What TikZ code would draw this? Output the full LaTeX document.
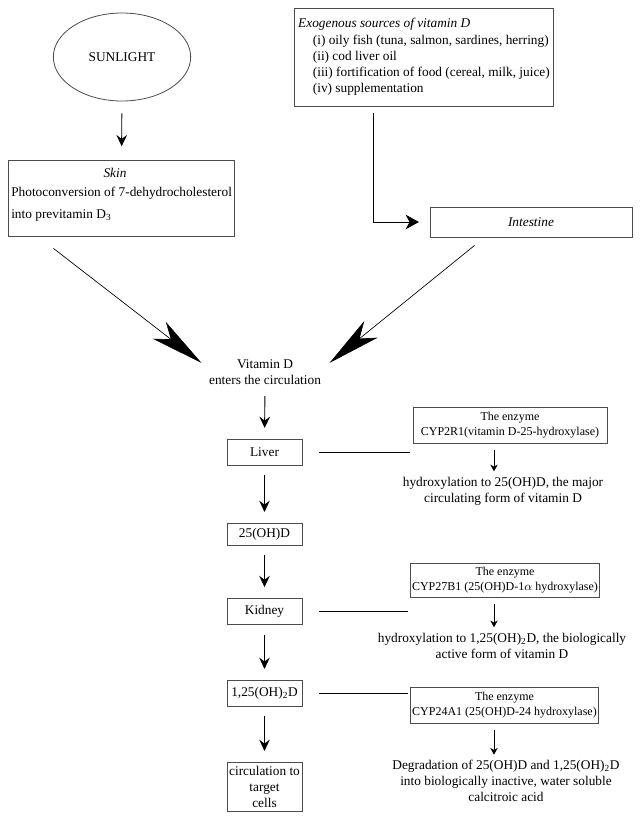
\documentclass[tikz,border=0pt]{standalone}
\usepackage{fontspec}
\setmainfont{Liberation Serif}
\usetikzlibrary{arrows.meta,shapes.geometric}

\begin{document}
\begin{tikzpicture}[x=0.75pt,y=-0.75pt,
  box/.style={draw=black!70,line width=0.6pt,minimum width=56.25pt,inner sep=1pt},
  enzbox/.style={draw=black!70,line width=0.6pt,align=center,font=\small,inner sep=1pt},
  txt/.style={align=center,inner sep=1pt},
  down/.style={-{Stealth[length=8.5pt,width=8pt,inset=3pt]},line width=0.7pt,shorten <=7.5pt,shorten >=8pt},
  tiny/.style={-{Stealth[length=5pt,width=5.5pt,inset=1.5pt]},line width=0.6pt,shorten <=5pt,shorten >=3pt},
  big/.style={-{Stealth[length=40pt,width=16pt,inset=11pt]},line width=0.5pt},
  link/.style={line width=0.6pt,shorten <=12.75pt,shorten >=2pt}]
\useasboundingbox (0,0) rectangle (641,819);
% sources
\node[ellipse,draw=black!70,line width=0.6pt,minimum width=103pt,minimum height=66pt] (sun) at (122,57) {SUNLIGHT};
\node[draw=black!70,line width=0.6pt,minimum width=169pt,minimum height=57pt] (skin) at (121.5,198) {};
\node[font=\itshape] (skinhead) at (115,173) {Skin};
\node[anchor=west,inner sep=0pt] (skinline1) at (11,193) {Photoconversion of 7-dehydrocholesterol};
\node[anchor=west,inner sep=0pt] (skinline2) at (11,215) {into previtamin D\textsubscript{3}};
\draw[down,shorten <=9pt,shorten >=10pt] (sun) -- (skin);
\node[draw=black!70,line width=0.6pt,minimum width=192pt,minimum height=73.5pt,align=left,inner xsep=3pt] (exo) at (424,57)
  {\textit{Exogenous sources of vitamin D}\\[1pt]
   \hspace*{11pt}(i) oily fish (tuna, salmon, sardines, herring)\\
   \hspace*{11pt}(ii) cod liver oil\\
   \hspace*{11pt}(iii) fortification of food (cereal, milk, juice)\\
   \hspace*{11pt}(iv) supplementation};
\node[box,minimum width=151.5pt,minimum height=22.5pt,font=\itshape] (intestine) at (531,222) {Intestine};
\coordinate (exoout) at (373,113);
\draw[-{Stealth[length=10pt,width=11pt,inset=3pt]},line width=0.6pt,shorten >=8pt] (exoout) |- (intestine.west);
% circulation
\node[txt] (vitd) at (265,372) {Vitamin D\\enters the circulation};
\draw[big] ([shift={(45,12)}]skin.south west) -- ([shift={(-6,5)}]vitd.north west);
\draw[big] ([shift={(45,8)}]intestine.south west) -- ([shift={(7,5)}]vitd.north east);
\node[box,minimum height=19.5pt] (liver) at (264.5,452) {Liver};
\node[box,minimum height=16.5pt] (oh25) at (264.5,534) {25(OH)D};
\node[box,minimum height=20pt] (kidney) at (264.5,611.5) {Kidney};
\node[box,minimum height=19.5pt] (dihyd) at (264.5,693) {1,25(OH)\textsubscript{2}D};
\node[box,minimum height=36.75pt,align=center] (circ) at (264.5,786.5) {circulation to\\target\\cells};
\draw[down] (vitd) -- (liver);
\draw[down] (liver) -- (oh25);
\draw[down] (oh25) -- (kidney);
\draw[down] (kidney) -- (dihyd);
\draw[down] (dihyd) -- (circ);
% enzymes
\node[enzbox,minimum width=145.5pt,minimum height=27pt] (enz1) at (510,425) {The enzyme\\CYP2R1(vitamin D-25-hydroxylase)};
\node[enzbox,minimum width=138pt,minimum height=25.5pt] (enz2) at (505,580) {The enzyme\\CYP27B1 (25(OH)D-1$\alpha$ hydroxylase)};
\node[enzbox,minimum width=137pt,minimum height=27pt] (enz3) at (504.5,705) {The enzyme\\CYP24A1 (25(OH)D-24 hydroxylase)};
\draw[link] (liver.east) -- (liver.east -| enz1.west);
\draw[link] (kidney.east) -- (kidney.east -| enz2.west);
\draw[link] (dihyd.east) -- (dihyd.east -| enz3.west);
\node[txt] (res1) at (503,491) {hydroxylation to 25(OH)D, the major\\circulating form of vitamin D};
\node[txt] (res2) at (502,645.5) {hydroxylation to 1,25(OH)\textsubscript{2}D, the biologically\\active form of vitamin D};
\node[txt] (res3) at (506,781) {Degradation of 25(OH)D and 1,25(OH)\textsubscript{2}D\\into biologically inactive, water soluble\\calcitroic acid};
\coordinate (ax) at (494,0);
\draw[tiny] (enz1.south -| ax) -- (res1.north -| ax);
\draw[tiny] (enz2.south -| ax) -- (res2.north -| ax);
\draw[tiny] (enz3.south -| ax) -- (res3.north -| ax);
\end{tikzpicture}
\end{document}
